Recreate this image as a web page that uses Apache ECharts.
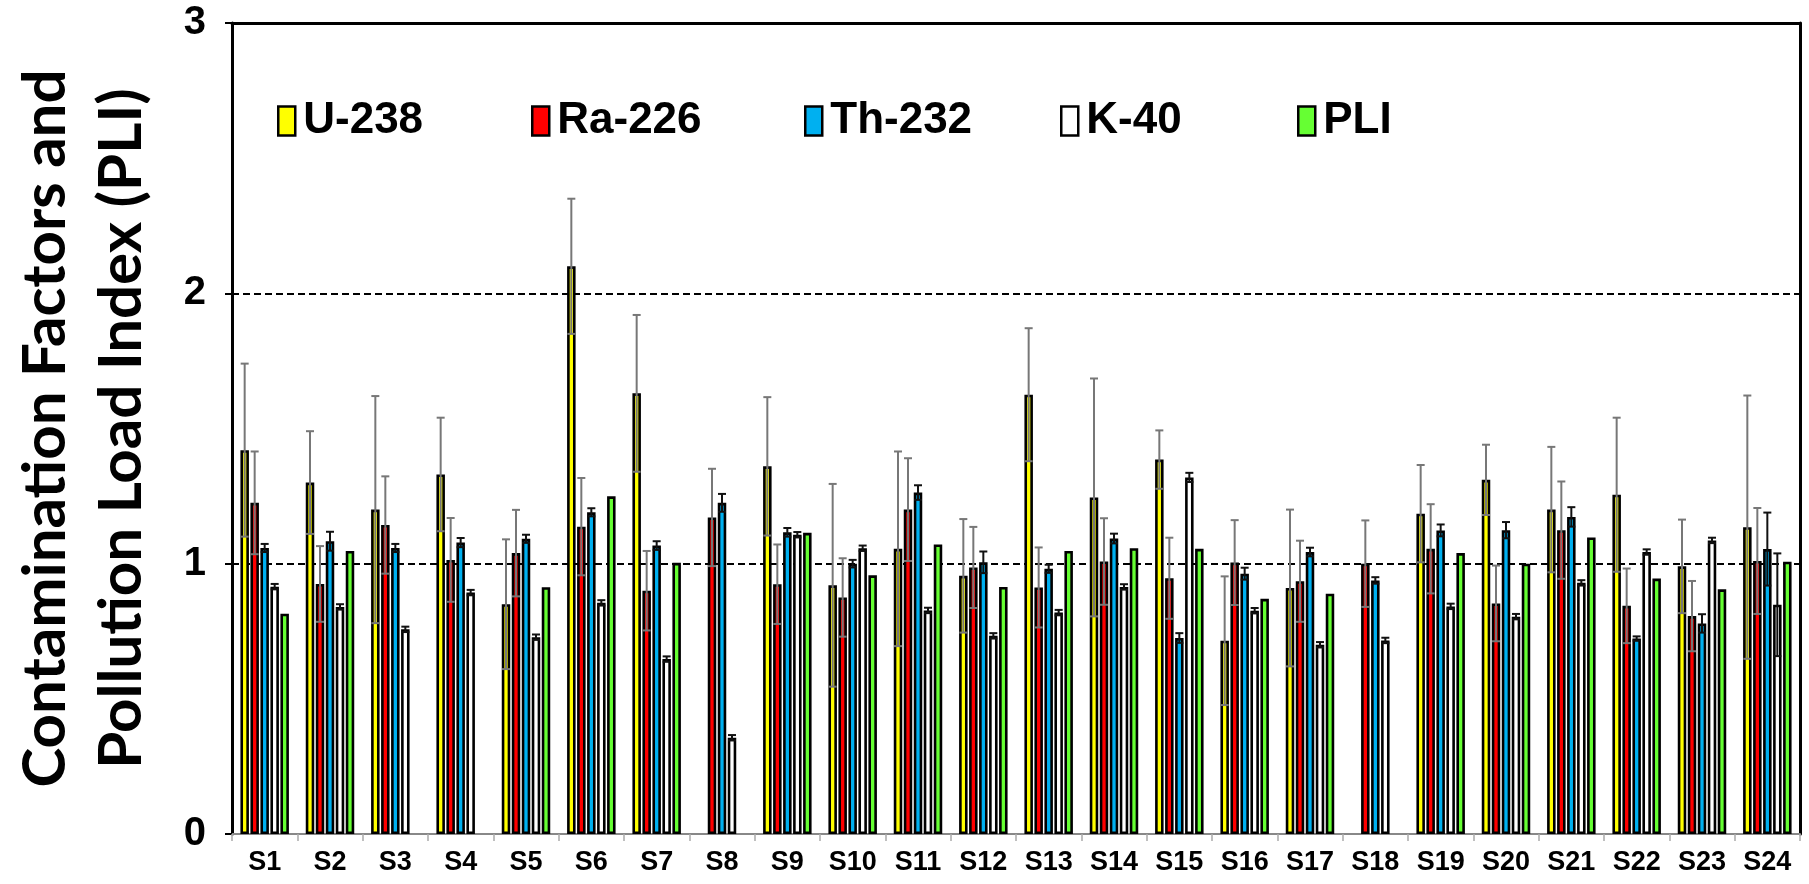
<!DOCTYPE html>
<html><head><meta charset="utf-8">
<script src="https://cdn.jsdelivr.net/npm/echarts@6/dist/echarts.min.js"></script>
<style>html,body{margin:0;padding:0;background:#fff}#c{width:1809px;height:884px}</style>
</head><body><div id="c"></div>
<script>
const categories = ['S1','S2','S3','S4','S5','S6','S7','S8','S9','S10','S11','S12','S13','S14','S15','S16','S17','S18','S19','S20','S21','S22','S23','S24'];
const seriesNames = ['U-238','Ra-226','Th-232','K-40','PLI'];
const yTicks = [0, 1, 2, 3];

const U238 = [1.42,1.30,1.20,1.33,0.85,2.10,1.63,null,1.36,0.92,1.055,0.955,1.625,1.245,1.385,0.715,0.91,null,1.185,1.31,1.20,1.255,0.99,1.135];
const U238_err = [0.32,0.19,0.42,0.21,0.24,0.25,0.29,0,0.256,0.375,0.36,0.21,0.246,0.44,0.108,0.238,0.29,0,0.18,0.13,0.232,0.285,0.173,0.487];
const Ra226 = [1.225,0.925,1.143,1.014,1.039,1.137,0.90,1.171,0.924,0.875,1.20,0.986,0.912,1.008,0.946,1.004,0.935,1.0,1.055,0.853,1.124,0.844,0.806,1.01];
const Ra226_err = [0.19,0.14,0.18,0.155,0.16,0.18,0.147,0.18,0.147,0.145,0.19,0.15,0.148,0.16,0.15,0.157,0.15,0.16,0.165,0.14,0.18,0.138,0.13,0.196];
const Th232 = [1.058,1.083,1.058,1.078,1.092,1.19,1.067,1.225,1.116,1.0,1.263,1.005,0.981,1.093,0.725,0.963,1.043,0.938,1.123,1.124,1.173,0.723,0.779,1.054];
const Th232_err = [0.015,0.035,0.015,0.017,0.015,0.015,0.016,0.033,0.016,0.014,0.027,0.04,0.015,0.018,0.018,0.022,0.016,0.012,0.022,0.03,0.036,0.008,0.034,0.135];
const K40 = [0.915,0.84,0.757,0.893,0.728,0.855,0.647,0.356,1.107,1.057,0.827,0.733,0.819,0.914,1.319,0.826,0.70,0.716,0.842,0.804,0.929,1.043,1.086,0.848];
const K40_err = [0.01,0.01,0.01,0.01,0.01,0.01,0.01,0.01,0.01,0.01,0.01,0.01,0.01,0.01,0.017,0.01,0.01,0.01,0.01,0.01,0.01,0.01,0.01,0.19];
const PLI = [0.815,1.047,null,null,0.913,1.249,1.003,null,1.114,0.957,1.071,0.914,1.047,1.057,1.055,0.870,0.889,null,1.039,1.0,1.097,0.945,0.905,1.007];

const values = [U238, Ra226, Th232, K40, PLI];
const errors = [U238_err, Ra226_err, Th232_err, K40_err, null];
const colors = ['#FFFF00','#FF0000','#00B0F0','#FFFFFF','#66FF33'];
const errColors = ['#777777','#777777','#111111','#111111'];

const BAR_W = 8.5, PITCH = 10;

function errRender(offset, color) {
  return function (params, api) {
    const idx = api.value(0), v = api.value(1), e = api.value(2);
    if (isNaN(v) || !e) return null;
    const top = api.coord([idx, v + e]);
    const bot = api.coord([idx, v - e]);
    const x = top[0] + offset;
    const hw = 4;
    const style = { stroke: color, lineWidth: 2 };
    return { type: 'group', children: [
      { type: 'line', shape: { x1: x, y1: top[1], x2: x, y2: bot[1] }, style },
      { type: 'line', shape: { x1: x - hw, y1: top[1], x2: x + hw, y2: top[1] }, style },
      { type: 'line', shape: { x1: x - hw, y1: bot[1], x2: x + hw, y2: bot[1] }, style }
    ]};
  };
}

const series = [];
seriesNames.forEach((n, i) => {
  series.push({
    name: n, type: 'bar', data: values[i],
    barWidth: BAR_W, barGap: ((PITCH - BAR_W) / BAR_W * 100).toFixed(1) + '%',
    itemStyle: { color: colors[i], borderColor: '#000', borderWidth: 2.6 },
    emphasis: { disabled: true }, z: 2
  });
});
seriesNames.forEach((n, i) => {
  if (!errors[i]) return;
  const d = [];
  categories.forEach((c, k) => { if (values[i][k] != null) d.push([k, values[i][k], errors[i][k]]); });
  series.push({
    name: n + ' err', type: 'custom', data: d, encode: { x: 0, y: 1 },
    renderItem: errRender((i - 2) * PITCH, errColors[i]), z: 5, silent: true
  });
});

const legendLeft = [272, 526, 799, 1055, 1292];
const legends = seriesNames.map((n, i) => ({
  data: [{ name: n, icon: 'rect' }], left: legendLeft[i], top: 94, itemWidth: 17, itemHeight: 29, itemGap: 0,
  selectedMode: false,
  itemStyle: { borderColor: '#000', borderWidth: 2.5 },
  textStyle: { fontSize: 44, fontWeight: 'bold', fontFamily: 'Liberation Sans', color: '#000', padding: [0, 0, 0, 3] }
}));

const chart = echarts.init(document.getElementById('c'), null, { renderer: 'canvas' });
chart.setOption({
  animation: false,
  backgroundColor: '#fff',
  grid: { left: 221, right: 9, top: 23, bottom: 50 },
  legend: legends,
  xAxis: [{
    type: 'category', data: categories, position: 'bottom',
    axisLine: { show: true, onZero: false, lineStyle: { color: '#888', width: 2 } },
    axisTick: { show: true, length: 7, lineStyle: { color: '#aaa', width: 1.5 } },
    axisLabel: { fontSize: 27, fontWeight: 'bold', fontFamily: 'Liberation Sans', color: '#000', margin: 15 }
  }, {
    type: 'category', data: categories, position: 'top',
    axisLine: { show: true, onZero: false, lineStyle: { color: '#000', width: 3 } },
    axisTick: { show: false }, axisLabel: { show: false }
  }],
  yAxis: [{
    type: 'value', min: yTicks[0], max: yTicks[yTicks.length - 1], interval: 1,
    axisLine: { show: true, onZero: false, lineStyle: { color: '#000', width: 3 } },
    axisTick: { show: true, length: 7, lineStyle: { color: '#000', width: 2 } },
    axisLabel: { fontSize: 40, fontWeight: 'bold', fontFamily: 'Liberation Sans', color: '#000', margin: 26 },
    splitLine: { show: true, showMinLine: false, showMaxLine: false, lineStyle: { color: '#000', width: 2, type: [7, 4] } },
    name: 'Contamination Factors and\nPollution Load Index (PLI)',
    nameLocation: 'middle', nameRotate: 90, nameGap: 72,
    nameTextStyle: { fontSize: 60, fontWeight: 'bold', fontFamily: 'Lato', color: '#000', lineHeight: 76 }
  }, {
    type: 'value', min: 0, max: 3, interval: 1, position: 'right',
    axisLine: { show: true, onZero: false, lineStyle: { color: '#000', width: 3 } },
    axisTick: { show: false }, axisLabel: { show: false }, splitLine: { show: false }
  }],
  series: series
});
</script>
</body></html>
